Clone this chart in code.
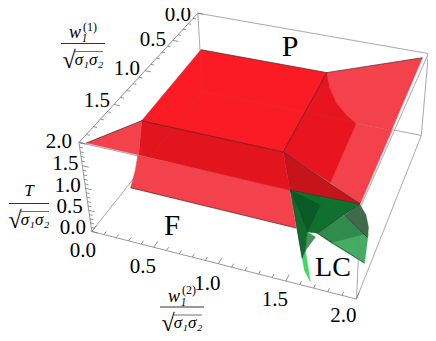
import numpy as np, pandas as pd, altair as alt

# camera of the 3D box; data coordinates are (w2, w1, T)
CAMERA = np.array([[95.389, -64.02, -7.0971, 202.43],
                   [17.42, 48.011, -39.535, 91.623],
                   [-0.033356, -0.094658, -0.02428, 1.0]])

plateau = [(-0.02,-0.06,1),(1.14,-0.07,1),(1.17,1.12,1),(-0.01,1.11,1)]
left_wing = [(-0.01,1.11,1),(0.05,1.99,2),(0.45,1.99,2)]
left_wall_upper = [(-0.01,1.11,1),(1.17,1.12,1),(1.53,2.00,2),(0.45,1.99,2)]
left_wall_lower = [(0.03,1.29,.5),(1.28,1.29,.5),(1.39,1.46,0),(0.03,1.45,0),(0.03,1.35,.25)]
right_wall = [(1.14,-0.07,1),(1.19,0.00,.75),(1.27,0.06,.5),(1.36,0.06,.25),(1.44,0.02,0),(1.47,0.87,0),(1.17,1.12,1)]
right_wing = [(1.14,-0.07,1),(1.97,0.08,2),(1.98,1.13,2),(1.44,0.02,0),(1.36,0.06,.25),(1.27,0.06,.5),(1.19,0.00,.75)]
right_lower = [(1.44,0.02,0),(1.75,0.01,0),(1.99,1.98,2),(1.47,0.87,0)]
dark_triangle = [(1.17,1.12,1),(1.99,1.98,2),(1.53,2.00,2)]
green_main = [(1.37,1.53,1),(1.87,1.51,1),(1.62,1.68,.5),(1.55,1.69,.5)]
green_core = [(1.37,1.53,1),(1.55,1.69,.5),(1.59,1.52,.8)]
green_left = [(1.37,1.53,1),(1.55,1.69,.5),(1.57,1.79,.3),(1.56,1.83,.2)]
green_tip = [(1.57,1.79,.3),(1.56,1.83,.2),(1.60,1.90,.1),(1.66,1.95,0)]
green_small = [(1.55,1.69,.5),(1.62,1.72,.5),(1.57,1.79,.3)]
green_right_a = [(1.62,1.68,.5),(1.77,1.52,.7),(1.95,1.56,.4),(1.73,1.70,.4)]
green_right_b = [(1.73,1.70,.4),(1.95,1.54,.45),(1.97,1.69,.1)]
green_cap = [(1.77,1.52,.7),(1.87,1.51,1),(1.91,1.47,.7),(1.94,1.50,.5),(1.95,1.56,.4)]

polygons = [
    (plateau, "#fb1b24", 1),
    (left_wall_lower, "#f4424c", 1),
    (left_wall_upper, "#e2151f", 1),
    (left_wing, "#f4424c", 1),
    (right_lower, "#f4424c", 1),
    (right_wing, "#f4424c", 1),
    (right_wall, "#e8141f", 1),
    (dark_triangle, "#c5141a", 1),
    (green_tip, "#3fd765", 1),
    (green_small, "#4a8f5c", 1),
    (green_right_a, "#2f8c4b", 1),
    (green_right_b, "#46ab63", 1),
    (green_cap, "#3f6a4c", 1),
    (green_main, "#10702e", 1),
    (green_left, "#0f6d2c", 1),
    (green_core, "#0a5a25", 1),
]

surface_edges = [
    [(-0.02,-0.06,1),(1.14,-0.07,1)], [(1.14,-0.07,1),(1.17,1.12,1)], [(1.17,1.12,1),(-0.01,1.11,1)],
    [(1.14,-0.07,1),(1.97,0.08,2)], [(-0.01,1.11,1),(0.05,1.99,2)], [(1.17,1.12,1),(1.99,1.98,2)],
    [(0.03,1.45,0),(1.39,1.46,0)], [(1.62,1.68,.5),(1.87,1.51,1)], [(1.77,1.52,.7),(1.95,1.56,.4)],
    [(1.62,1.68,.5),(1.97,1.69,.1)], [(1.37,1.53,1),(1.87,1.51,1)], [(1.37,1.53,1),(1.56,1.83,.2)],
]

box_edges = [
    [(0,0,2),(2,0,2)], [(2,0,2),(2,2,2)], [(0,2,2),(2,2,2)],
    [(2,2,0),(2,0,0)], [(2,0,0),(2,0,2)], [(0,0,0),(0,0,2)],
    [(0,0,0),(0,2,0)], [(0,0,0),(2,0,0)], [(2,2,0),(2,2,2)],
]
axis_edges = [[(0,0,2),(0,2,2)], [(0,2,0),(0,2,2)], [(0,2,0),(2,2,0)]]

tick_steps = [i / 10 for i in range(21)]
tick_text = ["0.0", "0.5", "1.0", "1.5", "2.0"]
w1_label_shift = [(-20,2),(-20,0),(-18,-2),(-17,-3),(-20,0)]
T_label_shift = [(-19,-3),(-19,-3),(-18,-2),(-17,-2)]
w2_label_shift = [(-9,20),(-11,20),(-11,20),(-11,19),(-13,17)]

phase_names = ["P", "F", "LC"]
phase_spots = [(290,47),(172,226),(333,268)]

fraction_bars = [(83,43.5),(29,203.5),(182,307)]
fraction_sup = ["(1)", None, "(2)"]

def project(points):
    a = np.array(points, float)
    h = CAMERA @ np.c_[a, np.ones(len(a))].T
    return h[0] / h[2], h[1] / h[2]

X = alt.X("x:Q", scale=alt.Scale(domain=[8,428], nice=False, zero=False), axis=None)
Y = alt.Y("y:Q", scale=alt.Scale(domain=[333,8], nice=False, zero=False), axis=None)

def frame(points):
    x, y = project(points)
    return pd.DataFrame({"x": x, "y": y, "i": range(len(x))})

def polygon(points, color, opacity):
    return alt.Chart(frame(points)).mark_line(
        fill=color, stroke=color, strokeWidth=0.4, opacity=opacity,
        interpolate="linear-closed", clip=False
    ).encode(x=X, y=Y, order="i:Q")

def lines(segments, color, width, opacity=1):
    rows = []
    for n, s in enumerate(segments):
        x, y = project(s)
        rows += [{"x": x[k], "y": y[k], "i": k, "g": n} for k in range(len(x))]
    return alt.Chart(pd.DataFrame(rows)).mark_line(
        stroke=color, strokeWidth=width, opacity=opacity, clip=False
    ).encode(x=X, y=Y, order="i:Q", detail="g:N")

ticks = []
for t in tick_steps:
    major = abs(t * 2 - round(t * 2)) < 1e-9
    L = 0.05 if major else 0.028
    ticks.append([(0,t,2),(L,t,2)])
    ticks.append([(0,2,t),(L,2,t)])
    ticks.append([(t,2,0),(t,2-L*1.3,0)])

texts = []
for k, s in enumerate(tick_text):
    v = k * 0.5
    x, y = project([(0,v,2)])
    texts.append((x[0]+w1_label_shift[k][0], y[0]+w1_label_shift[k][1], s, 21, "normal"))
    x, y = project([(v,2,0)])
    texts.append((x[0]+w2_label_shift[k][0], y[0]+w2_label_shift[k][1], s, 21, "normal"))
    if k < 4:
        x, y = project([(0,2,v)])
        texts.append((x[0]+T_label_shift[k][0], y[0]+T_label_shift[k][1], s, 21, "normal"))
for s, (x, y), z in zip(phase_names, phase_spots, [30, 29, 28]):
    texts.append((x, y, s, z, "normal"))

bars = []
for (cx, cy), sup in zip(fraction_bars, fraction_sup):
    half = 20 if sup is None else 22
    bars.append({"x": cx-half, "x2": cx+half, "y": cy, "w": 1.0})
    bars.append({"x": cx-8, "x2": cx+20, "y": cy+8, "w": 0.7})
    texts.append((cx-14, cy+17, "√", 24, "normal"))
    texts.append((cx+6, cy+16, "σ₁σ₂", 17, "italic"))
    if sup:
        texts.append((cx-5, cy-10.5, "w₁", 18, "italic"))
        texts.append((cx+7, cy-17, sup, 12, "normal"))
    else:
        texts.append((cx, cy-12.8, "T", 17, "italic"))

tx = pd.DataFrame(texts, columns=["x","y","t","s","st"])

def text_layer(style):
    return alt.Chart(tx[tx.st == style]).mark_text(
        font="Liberation Serif", fontStyle=style, baseline="middle", align="center",
        color="#000000", clip=False
    ).encode(x=X, y=Y, text="t:N", size=alt.Size("s:Q", scale=None, legend=None))

bar_layer = alt.Chart(pd.DataFrame(bars)).mark_rule(color="#333333", clip=False).encode(
    x=X, x2="x2:Q", y=Y, strokeWidth=alt.StrokeWidth("w:Q", scale=None, legend=None))

layers = [lines(box_edges, "#b4b4b4", 1), lines(axis_edges, "#9a9a9a", 1)]
layers += [polygon(*p) for p in polygons]
layers += [lines(surface_edges, "#1a1a1a", 0.7, 0.75),
           lines(box_edges + axis_edges[:1], "#777777", 0.7, 0.18),
           lines(ticks, "#777777", 0.8),
           bar_layer, text_layer("normal"), text_layer("italic")]

chart = alt.layer(*layers).properties(
    width=420, height=325, padding=0,
    autosize=alt.AutoSizeParams(type="none", contains="padding")
).configure_view(stroke=None)
chart.save("out.html", embed_options={"renderer": "svg", "actions": False})
